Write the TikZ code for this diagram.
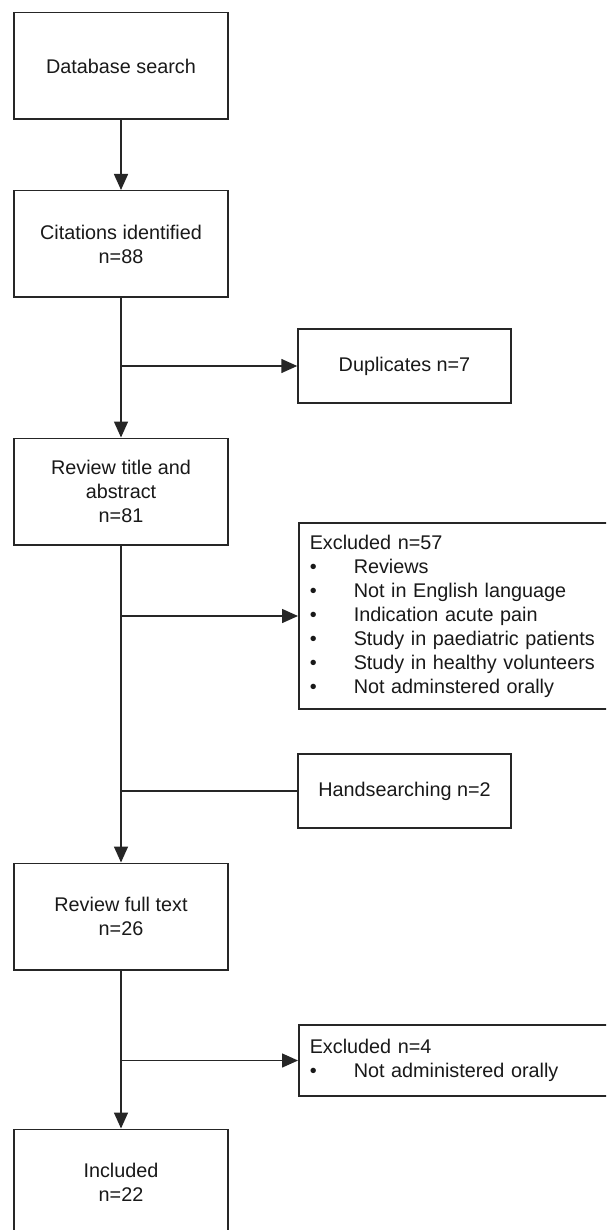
\documentclass[tikz,border=0pt]{standalone}
\usepackage{fontspec}
\setmainfont{Liberation Sans}
\usetikzlibrary{arrows.meta}
\newcommand\blt[1]{\makebox[44pt][l]{\textbullet}#1}
\begin{document}
\begin{tikzpicture}[x=1pt,y=-1pt,
  every node/.style={font=\fontsize{19.8}{24}\selectfont, text=black!90},
  box/.style={draw=black!85, line width=1.5pt, inner sep=0pt},
  mainbox/.style={box, align=center, minimum width=214pt, minimum height=106.5pt},
  sidebox/.style={box, align=center, minimum width=213pt, minimum height=74pt},
  exbox/.style={box, anchor=west, align=left, inner xsep=11pt, text width=300pt},
  conn/.style={draw=black!85, line width=1.5pt},
  arr/.style={conn, -{Triangle[length=16pt,width=14pt]}}]
\useasboundingbox (0,0) rectangle (606,1230);
\clip (0,0) rectangle (606,1230);
\fill[white] (0,0) rectangle (606,1230);

\node[mainbox] (db)  at (121,66)    {Database search};
\node[mainbox] (cit) at (121,244)   {Citations identified\\n=88};
\node[mainbox] (rta) at (121,491.5) {Review title and\\abstract\\n=81};
\node[mainbox] (rft) at (121,916.5) {Review full text\\n=26};
\node[mainbox] (inc) at (121,1182.5) {Included\\n=22};

\node[sidebox] (dup)  at (404.5,366) {Duplicates n=7};
\node[sidebox] (hand) at (404.5,791) {Handsearching n=2};
\node[exbox, minimum height=186pt] (ex1) at (298,616)
  {Excluded n=57\\
   \blt{Reviews}\\
   \blt{Not in English language}\\
   \blt{Indication acute pain}\\
   \blt{Study in paediatric patients}\\
   \blt{Study in healthy volunteers}\\
   \blt{Not adminstered orally}};
\node[exbox, minimum height=71pt] (ex2) at (298,1060.5)
  {Excluded n=4\\
   \blt{Not administered orally}};

\coordinate (b1) at (cit.south |- dup.west);
\coordinate (b2) at (rta.south |- ex1.west);
\coordinate (b3) at (rta.south |- hand.west);
\coordinate (b4) at (rft.south |- ex2.west);

\draw[arr] (db.south) -- (cit.north);
\draw[arr] (cit.south) -- (rta.north);
\draw[arr] (b1) -- (dup.west);
\draw[arr] (rta.south) -- (rft.north);
\draw[arr] (b2) -- (ex1.west);
\draw[conn] (hand.west) -- (b3);
\draw[arr] (rft.south) -- (inc.north);
\draw[arr] (b4) -- (ex2.west);
\end{tikzpicture}
\end{document}
